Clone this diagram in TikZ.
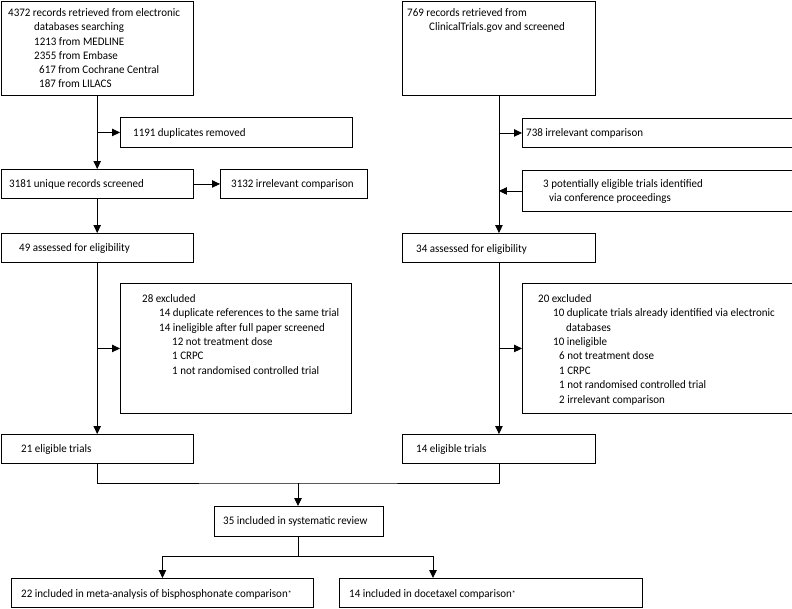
\documentclass[tikz,border=0pt]{standalone}
\usepackage{fontspec}
\setmainfont{Carlito}[FakeStretch=0.955]
\usetikzlibrary{arrows.meta}
\newcommand\fsz{\fontsize{11.5}{14.4}\selectfont}
\newcommand\fszA{\fontsize{11.5}{14.2}\selectfont}
\newcommand\tp{\rule{0pt}{9pt}}
\newcommand\myast{\raisebox{0.5pt}{\fontsize{8}{8}\selectfont *}}
\begin{document}
\begin{tikzpicture}[x=1pt,y=-1pt,
  box/.style={draw, line width=0.9pt, inner sep=0, anchor=north west},
  txt/.style={anchor=north west, inner sep=0, align=left, font=\fsz},
  one/.style={anchor=base west, inner sep=0, font=\fsz},
  arr/.style={line width=0.9pt, -{Triangle[length=8pt,width=7.5pt]}},
  ln/.style={line width=0.9pt}]
\useasboundingbox (0,0) rectangle (792,608);
% boxes
\node[box, minimum width=192.5pt, minimum height=94.5pt] (A) at (0.5,0.5) {};
\node[box, minimum width=193pt, minimum height=94.5pt] (B) at (402,0.5) {};
\node[box, minimum width=232pt, minimum height=30pt] (dup) at (120,117) {};
\node[box, minimum width=192.5pt, minimum height=29pt] (unique) at (0.5,169) {};
\node[box, minimum width=147pt, minimum height=29pt] (irr1) at (220,169) {};
\node[box, minimum width=192.5pt, minimum height=29pt] (elig49) at (0.5,233) {};
\node[box, minimum width=231pt, minimum height=130pt] (exc28) at (120,283) {};
\node[box, minimum width=192.5pt, minimum height=29pt] (tr21) at (0.5,434) {};
\node[box, minimum width=269.5pt, minimum height=29pt] (irr738) at (522,118) {};
\node[box, minimum width=269.5pt, minimum height=41pt] (pot3) at (522,170) {};
\node[box, minimum width=193pt, minimum height=29pt] (elig34) at (402,233) {};
\node[box, minimum width=269.5pt, minimum height=130pt] (exc20) at (522,283) {};
\node[box, minimum width=193pt, minimum height=29pt] (tr14) at (402,434) {};
\node[box, minimum width=169pt, minimum height=29.5pt] (incl35) at (213.5,506) {};
\node[box, minimum width=302pt, minimum height=29pt] (meta22) at (11,578) {};
\node[box, minimum width=303pt, minimum height=29pt] (doc14) at (339,578) {};
% texts
\node[txt, font=\fszA] (tA) at (8,7.5) {\tp 4372 records retrieved from electronic\\
  \hspace*{26pt}databases searching\\
  \hspace*{26pt}1213 from MEDLINE\\
  \hspace*{26pt}2355 from Embase\\
  \hspace*{31pt}617 from Cochrane Central\\
  \hspace*{31pt}187 from LILACS};
\node[txt] (tB) at (407,7) {\tp 769 records retrieved from\\
  \hspace*{22pt}ClinicalTrials.gov and screened};
\node[txt] (t28) at (142,293) {\tp 28 excluded\\
  \hspace*{17pt}14 duplicate references to the same trial\\
  \hspace*{17pt}14 ineligible after full paper screened\\
  \hspace*{30pt}12 not treatment dose\\
  \hspace*{30pt}1 CRPC\\
  \hspace*{30pt}1 not randomised controlled trial};
\node[txt] (t20) at (538,293) {\tp 20 excluded\\
  \hspace*{15pt}10 duplicate trials already identified via electronic\\
  \hspace*{28pt}databases\\
  \hspace*{15pt}10 ineligible\\
  \hspace*{21pt}6 not treatment dose\\
  \hspace*{21pt}1 CRPC\\
  \hspace*{21pt}1 not randomised controlled trial\\
  \hspace*{21pt}2 irrelevant comparison};
\node[txt] (t3) at (543,178) {\tp 3 potentially eligible trials identified\\
  \hspace*{6pt}via conference proceedings};
\node[one] (tdup) at (133,136) {1191 duplicates removed};
\node[one] (tuni) at (9,187) {3181 unique records screened};
\node[one] (tirr1) at (231,187) {3132 irrelevant comparison};
\node[one] (t49) at (19,251.5) {49 assessed for eligibility};
\node[one] (t21) at (21,452) {21 eligible trials};
\node[one] (t738) at (526,136) {738 irrelevant comparison};
\node[one] (t34) at (416,252) {34 assessed for eligibility};
\node[one] (t14) at (416,452) {14 eligible trials};
\node[one] (t35) at (223,524) {35 included in systematic review};
\node[one] (t22) at (21,597) {22 included in meta-analysis of bisphosphonate comparison\myast};
\node[one] (td14) at (349,597) {14 included in docetaxel comparison\myast};
% connectors
\draw[arr] (A.south) -- (unique.north);
\draw[arr] (unique.south) -- (elig49.north);
\draw[arr] (elig49.south) -- (tr21.north);
\draw[arr] (B.south) -- (elig34.north);
\draw[arr] (elig34.south) -- (tr14.north);
\draw[arr] (A.south |- dup.west) -- (dup.west);
\draw[arr] (unique.east) -- (irr1.west);
\draw[arr] (A.south |- exc28.west) -- (exc28.west);
\draw[arr] (B.south |- irr738.west) -- (irr738.west);
\draw[arr] (pot3.west) -- (B.south |- pot3.west);
\draw[arr] (B.south |- exc20.west) -- (exc20.west);
\coordinate (mj) at (298,483);
\draw[ln] (tr21.south) |- (mj) -| (tr14.south);
\draw[arr] (mj) -- (mj |- incl35.north);
\coordinate (bj) at (298,556);
\coordinate (bR) at (433,556);
\draw[ln] (bj |- incl35.south) -- (bj);
\draw[arr] (bj) -| (meta22.north);
\draw[arr] (bj) -- (bR) -- (bR |- doc14.north);
\end{tikzpicture}
\end{document}
